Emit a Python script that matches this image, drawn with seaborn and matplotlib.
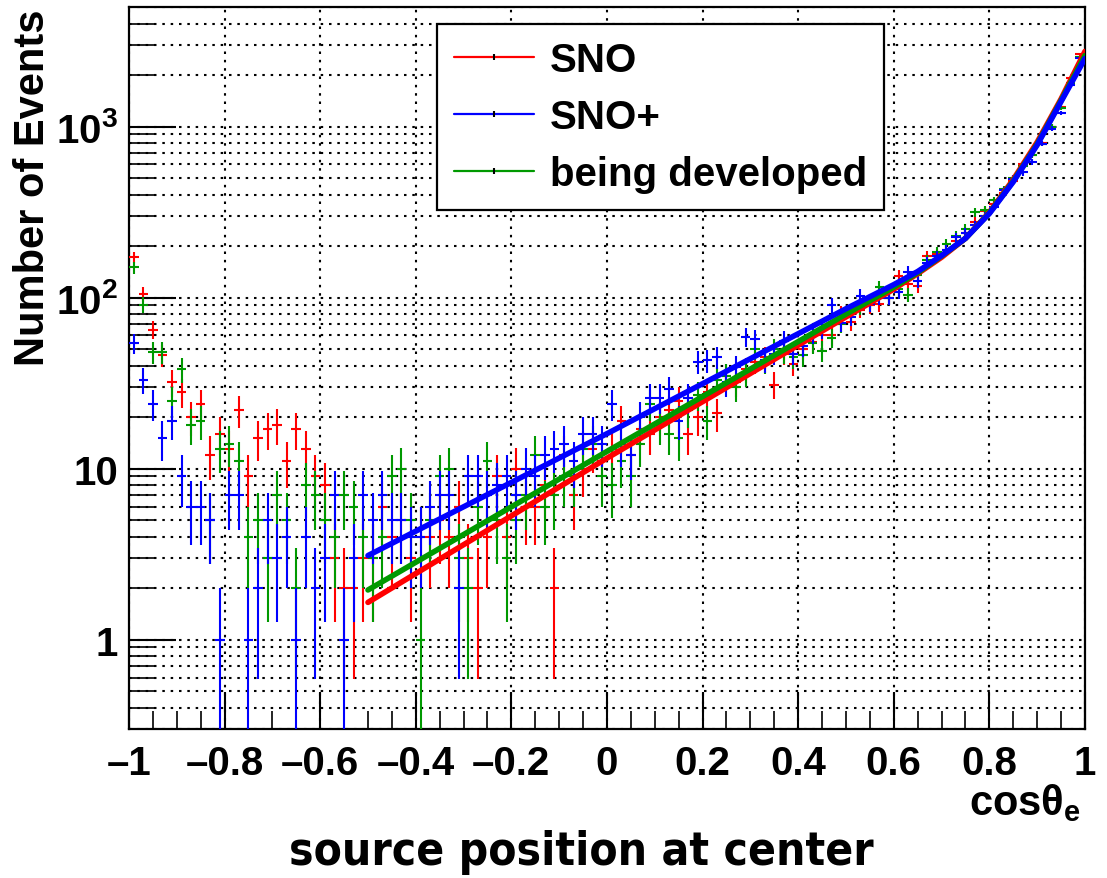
import numpy as np
import pandas as pd
import matplotlib
matplotlib.use("Agg")
import matplotlib.pyplot as plt
import seaborn as sns
from matplotlib.ticker import FixedLocator, FixedFormatter, LogLocator, NullFormatter, MultipleLocator, FuncFormatter
from matplotlib.lines import Line2D

sns.set_style("white")
plt.rcParams['font.family'] = ['Liberation Sans', 'DejaVu Sans']
plt.rcParams['font.weight'] = 'bold'
plt.rcParams['text.color'] = 'black'
plt.rcParams['axes.labelcolor'] = 'black'
plt.rcParams['xtick.color'] = 'black'
plt.rcParams['ytick.color'] = 'black'
plt.rcParams['mathtext.fontset'] = 'custom'
plt.rcParams['mathtext.rm'] = 'Liberation Sans:bold'
plt.rcParams['mathtext.it'] = 'Liberation Sans:bold'
plt.rcParams['mathtext.bf'] = 'Liberation Sans:bold'

# 100 bins of width 0.02 in cos(theta_e)
bin_edges = np.linspace(-1.0, 1.0, 101)

counts_sno = [
    172, 105, 65, 46, 32, 28, 20, 24, 12, 16,
    13, 22, 9, 15, 17, 18, 11, 17, 13, 9,
    8, 3, 2, 2, 3, 3, 6, 4, 5, 3,
    4, 4, 5, 4, 6, 3, 2, 4, 9, 4,
    10, 6, 6, 8, 2, 12, 7, 10, 13, 11,
    13, 19, 12, 17, 16, 20, 22, 25, 16, 20,
    28, 21, 35, 32, 38, 42, 45, 31, 47, 41,
    50, 55, 60, 60, 80, 72, 85, 90, 92, 100,
    133, 120, 117, 175, 180, 190, 215, 240, 278, 320,
    353, 410, 480, 607, 680, 800, 1000, 1300, 1914, 2650,
]
counts_snoplus = [
    54, 33, 24, 15, 19, 9, 6, 6, 5, 1,
    7, 7, 1, 2, 5, 3, 4, 1, 4, 2,
    3, 7, 1, 3, 7, 5, 7, 5, 5, 4,
    4, 6, 7, 7, 2, 9, 9, 7, 8, 9,
    7, 10, 9, 12, 13, 14, 11, 16, 16, 14,
    24, 14, 12, 20, 26, 26, 29, 19, 26, 42,
    43, 45, 32, 39, 59, 57, 43, 47, 56, 47,
    52, 61, 65, 90, 71, 77, 102, 92, 100, 100,
    108, 142, 125, 160, 175, 190, 225, 240, 264, 300,
    340, 423, 495, 540, 621, 794, 973, 1200, 1750, 2506,
]
counts_dev = [
    150, 91, 48, 48, 25, 38, 18, 19, 5, 13,
    14, 11, 4, 5, 3, 7, 5, 2, 8, 7,
    5, 4, 7, 6, 4, 3, 4, 9, 10, 5,
    1, 5, 9, 10, 3, 2, 6, 11, 5, 3,
    5, 7, 12, 6, 7, 9, 9, 13, 14, 9,
    8, 11, 9, 14, 24, 18, 16, 15, 22, 27,
    19, 33, 35, 30, 36, 50, 42, 50, 48, 45,
    46, 54, 49, 58, 70, 82, 88, 95, 115, 100,
    112, 104, 135, 165, 185, 205, 230, 252, 315, 323,
    370, 430, 500, 590, 680, 794, 1000, 1288, 1800, 2550,
]

# fitted curves, sampled along cos(theta_e)
fit_x = [-0.5, 0.0, 0.5, 0.6, 0.65, 0.7, 0.75, 0.8, 0.85, 0.9, 0.95, 1.0]
fit_sno = [1.65, 11.5, 77, 112, 138, 172, 222, 315, 490, 810, 1450, 2750]
fit_dev = [1.95, 12.6, 80, 115, 140, 175, 222, 312, 480, 790, 1420, 2600]
fit_snoplus = [3.1, 16, 86, 119, 142, 176, 222, 310, 475, 780, 1400, 2500]

labels = ["SNO", "SNO+", "being developed"]
colors = {"SNO": "#ff0000", "SNO+": "#0000ff", "being developed": "#009900"}

fig = plt.figure(figsize=(11.07, 8.79), dpi=100)
ax = fig.add_axes([0.1165, 0.1695, 0.8636, 0.8214])
ax.set_yscale("log")

centers = 0.5 * (bin_edges[:-1] + bin_edges[1:])
half_width = 0.5 * np.diff(bin_edges)

hist_series = [("SNO", counts_sno), ("being developed", counts_dev), ("SNO+", counts_snoplus)]
for name, counts in hist_series:
    n = np.asarray(counts, dtype=float)
    keep = n > 0
    nk = n[keep]
    err = np.sqrt(nk)
    lower = np.where(nk - err > 0, err, nk * 0.999999)
    ax.errorbar(centers[keep], nk, xerr=half_width[keep], yerr=[lower, err],
                fmt="none", ecolor=colors[name], elinewidth=1.5, capsize=0, zorder=3)

fit_df = pd.concat([
    pd.DataFrame({"cos": fit_x, "events": fit_sno, "detector": "SNO"}),
    pd.DataFrame({"cos": fit_x, "events": fit_dev, "detector": "being developed"}),
    pd.DataFrame({"cos": fit_x, "events": fit_snoplus, "detector": "SNO+"}),
], ignore_index=True)
sns.lineplot(data=fit_df, x="cos", y="events", hue="detector",
             hue_order=["SNO", "being developed", "SNO+"], palette=colors,
             estimator=None, linewidth=4.0, legend=False, ax=ax, zorder=4)

ax.set_xlim(-1, 1)
ax.set_ylim(0.3, 5000)
ax.set_xlabel("")
ax.set_ylabel("")

# axes, ticks and grid
ax.xaxis.set_major_locator(MultipleLocator(0.2))
ax.xaxis.set_minor_locator(MultipleLocator(0.05))
ax.xaxis.set_major_formatter(FuncFormatter(
    lambda v, p: ("\u2013" if v < -1e-9 else "") + ("%g" % abs(round(v, 1)))))
ax.yaxis.set_major_locator(FixedLocator([1, 10, 100, 1000]))
ax.yaxis.set_major_formatter(FixedFormatter(["1", "10", r"$10^{2}$", r"$10^{3}$"]))
ax.yaxis.set_minor_locator(LogLocator(base=10, subs=np.arange(2, 10)))
ax.yaxis.set_minor_formatter(NullFormatter())

ax.tick_params(axis="both", which="both", direction="in", labelsize=29, colors="black",
               bottom=True, left=True, top=False, right=False)
ax.tick_params(axis="x", which="major", length=27, width=1.5, pad=11)
ax.tick_params(axis="x", which="minor", length=13, width=1.2)
ax.tick_params(axis="y", which="major", length=34, width=1.5, pad=8)
ax.tick_params(axis="y", which="minor", length=19, width=1.2)

ax.grid(True, which="major", axis="x", color="black", linestyle=(0, (1.2, 2.8)), linewidth=1.5)
ax.grid(True, which="both", axis="y", color="black", linestyle=(0, (1.2, 2.8)), linewidth=1.5)
ax.set_axisbelow(True)
for sp in ax.spines.values():
    sp.set_color("black")
    sp.set_linewidth(1.6)

handles = [Line2D([], [], color=colors[l], lw=1.6, marker="|", markersize=5,
                  markeredgecolor="black", markeredgewidth=1.5) for l in labels]
leg = ax.legend(handles, labels, loc="upper left", bbox_to_anchor=(0.322, 0.976),
                borderaxespad=0, frameon=True, fancybox=False, framealpha=1,
                edgecolor="black", prop={"weight": "bold", "size": 29},
                handlelength=2.0, handletextpad=0.38, borderpad=0.42, labelspacing=0.47)
leg.get_frame().set_linewidth(1.6)
leg.set_zorder(10)
for t in leg.get_texts():
    t.set_color("black")

fig.text(0.030, 0.989, "Number of Events", rotation=90, ha="center", va="top",
         fontsize=30, fontweight="bold", color="black")
fig.text(1080 / 1107, 0.073, r"$cos\theta_{e}$", ha="right", va="baseline", fontsize=30,
         color="black")
fig.text(0.525, 0.016, "source position at center", ha="center", va="baseline",
         fontsize=33, fontweight="bold", family="DejaVu Sans", fontstretch="condensed",
         color="black")

fig.savefig("out.png", dpi=100)
